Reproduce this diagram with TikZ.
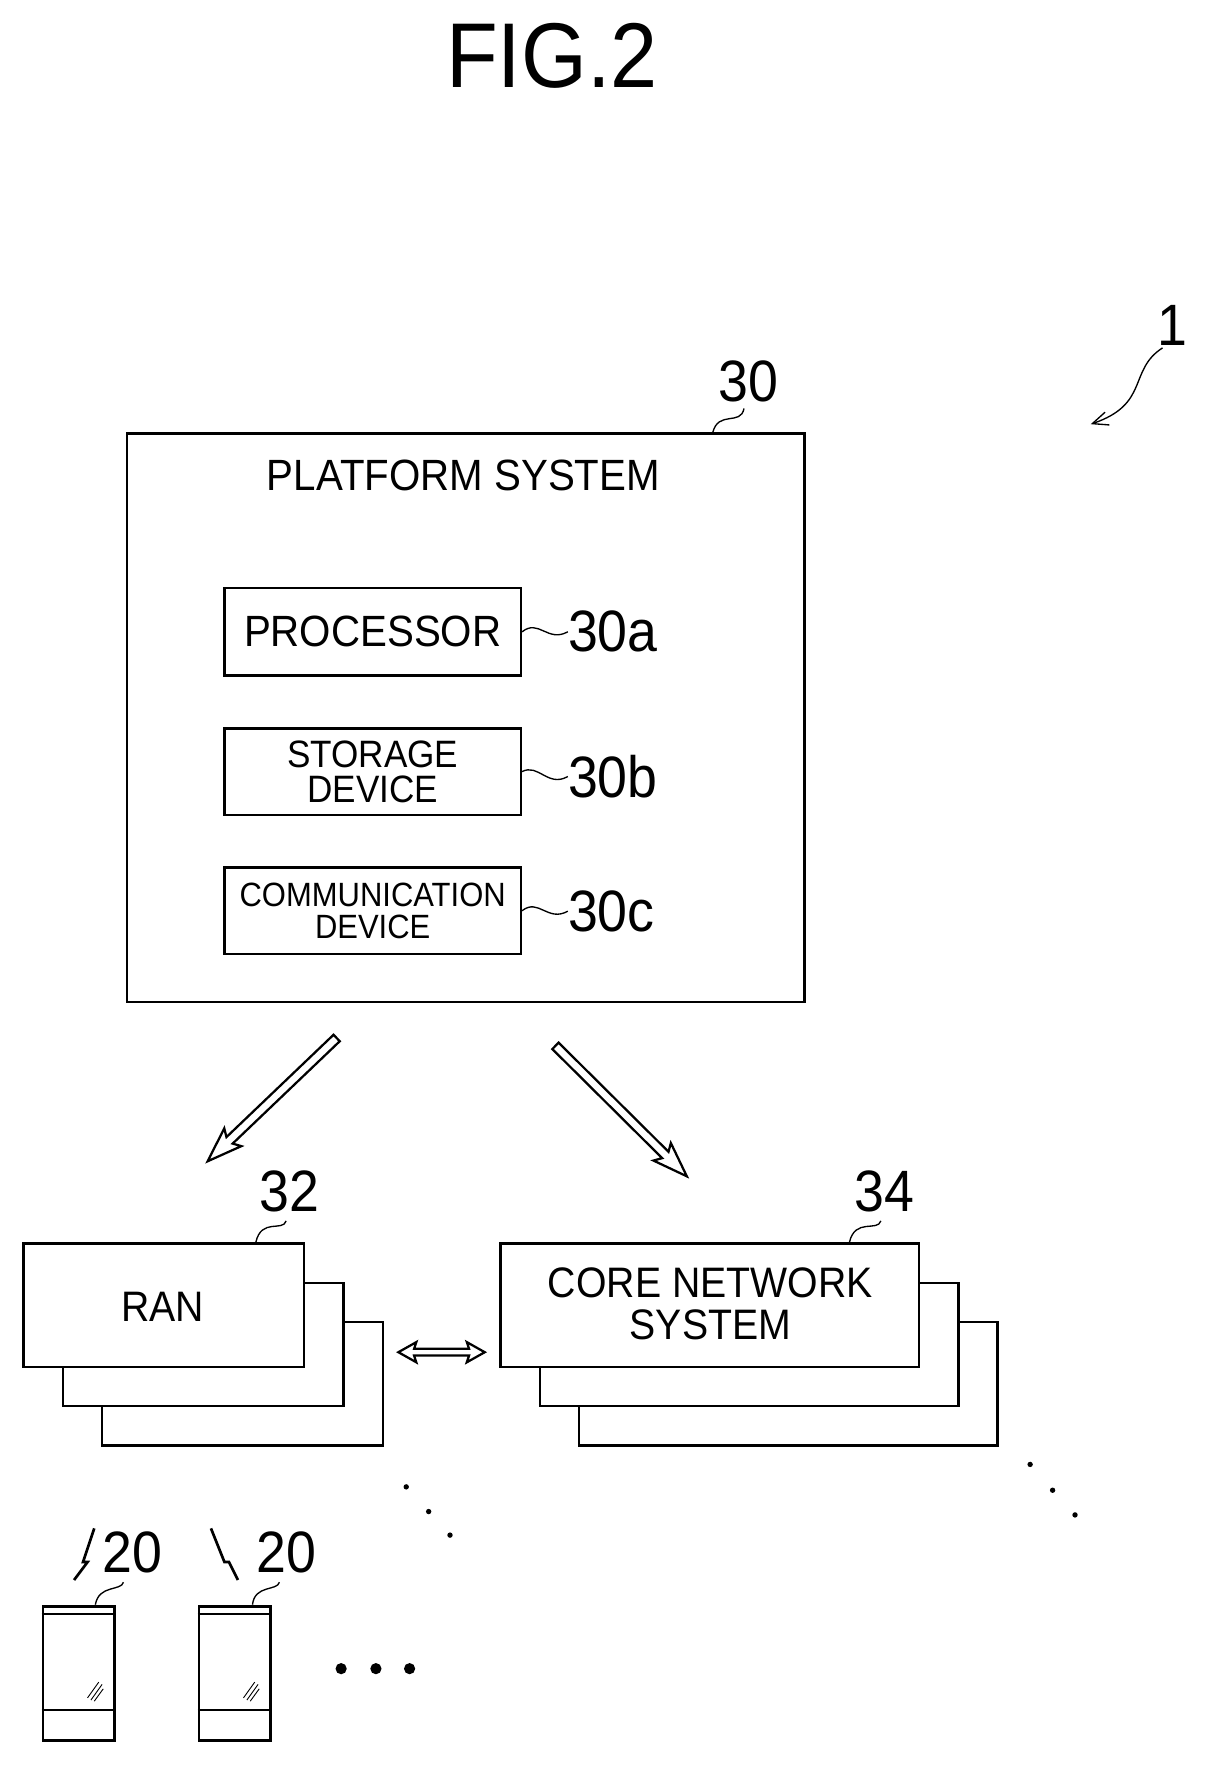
\documentclass[tikz,border=0pt]{standalone}
\usetikzlibrary{arrows.meta}
\usepackage{fontspec}
\setmainfont[FakeStretch=0.92]{Liberation Sans}
\begin{document}
\begin{tikzpicture}[x=1pt,y=-1pt,
  box/.style={draw,line width=2.2pt,fill=white},
  lead/.style={line width=1.2pt},
  num/.style={font=\fontsize{52}{52}\selectfont,inner sep=0},
  hol/.style={draw,line width=2pt,fill=white,line join=miter}]
\useasboundingbox (0,0) rectangle (1080,1580);
\node[font=\fontsize{82}{82}\selectfont] (title) at (492,50) {FIG.2};
% label 1
\node[num] (n1) at (1045,290) {1};
\coordinate (n1a) at (1036,310);
\coordinate (n1b) at (972,378);
\draw[lead,-{Straight Barb[length=14pt,width=12pt]}] (n1a) .. controls (1005,330) and (1025,360) .. (n1b);
% platform
\node[box,minimum width=604,minimum height=507,anchor=north west] (P) at (112,385) {};
\node[font=\fontsize{39}{39}\selectfont] (pt) at (413,424) {PLATFORM SYSTEM};
\node[num] (n30) at (667,340) {30};
\coordinate (c30) at (635,386);
\draw[lead] (c30) .. controls (640,365) and (660,380) .. (663,364);
\node[box,minimum width=264,minimum height=78,anchor=north west,font=\fontsize{39}{39}\selectfont,inner sep=0] (a) at (199,523) {PROCESSOR};
\node[box,minimum width=264,minimum height=77,anchor=north west,font=\fontsize{34}{31}\selectfont,inner sep=0,align=center] (b) at (199,648) {STORAGE\\DEVICE};
\node[box,minimum width=264,minimum height=77,anchor=north west,font=\fontsize{30}{29}\selectfont,inner sep=0,align=center] (c) at (199,772) {COMMUNICATION\\DEVICE};
\foreach \s/\y in {a/563,b/692,c/812}{
  \node[num,anchor=west] (l\s) at (506,\y) {30\s};
  \draw[lead] (\s.east) .. controls (480,\y-12) and (488,\y+10) .. (l\s.west);
}
% hollow arrows
\begin{scope}[shift={(300,925)},rotate=223.7]
\path[hol] (0,4)--(132,4)--(128,11)--(159,0)--(128,-11)--(132,-4)--(0,-4)--cycle;
\end{scope}
\begin{scope}[shift={(495,932)},rotate=-44.8]
\path[hol] (0,4)--(138,4)--(134,11)--(165,0)--(134,-11)--(138,-4)--(0,-4)--cycle;
\end{scope}
% RAN stack
\node[box,minimum width=250,minimum height=110,anchor=north west] (r3) at (90,1177) {};
\node[box,minimum width=250,minimum height=110,anchor=north west] (r2) at (55,1142) {};
\node[box,minimum width=250,minimum height=110,anchor=north west] (r1) at (20,1107) {};
\node[font=\fontsize{38}{38}\selectfont] (rt) at (145,1165) {RAN};
\node[num] (n32) at (258,1062) {32};
\coordinate (c32) at (228,1107);
\draw[lead] (c32) .. controls (233,1085) and (252,1098) .. (255,1088);
% Core stack
\node[box,minimum width=373,minimum height=110,anchor=north west] (k3) at (515,1177) {};
\node[box,minimum width=373,minimum height=110,anchor=north west] (k2) at (480,1142) {};
\node[box,minimum width=373,minimum height=110,anchor=north west] (k1) at (445,1107) {};
\node[font=\fontsize{38}{38}\selectfont,align=center] (kt) at (633,1162) {CORE NETWORK\\SYSTEM};
\node[num] (n34) at (788,1062) {34};
\coordinate (c34) at (757,1107);
\draw[lead] (c34) .. controls (762,1085) and (782,1098) .. (785,1088);
% double arrow
\begin{scope}[shift={(355,1205)}]
\path[hol] (0,0)--(16,-9)--(14,-3)--(63,-3)--(61,-9)--(77,0)--(61,9)--(63,3)--(14,3)--(16,9)--cycle;
\end{scope}
% dots
\foreach \x/\y in {362/1325,382/1347,401/1368,918/1305,938/1328,958/1350}
  \fill (\x,\y) circle (2.4);
\foreach \x in {304,335,365} \fill (\x,1487) circle (5);
% phones
\foreach \px/\nm in {37/ph1,176/ph2}{
  \node[draw,line width=2.6pt,minimum width=64,minimum height=120,anchor=north west,inner sep=0] (\nm) at (\px,1430) {};
  \draw[line width=1.8pt] (\px,1438) -- (\px+64,1438);
  \draw[line width=1.8pt] (\px,1524) -- (\px+64,1524);
  \draw[line width=0.8pt] (\px+41,1513)--(\px+51,1499) (\px+44,1515)--(\px+54,1501) (\px+47,1516)--(\px+55,1505);
}
\node[num] (n20a) at (118,1383) {20};
\node[num] (n20b) at (255,1383) {20};
\coordinate (q1) at (85,1430);
\coordinate (q2) at (225,1430);
\draw[lead] (q1) .. controls (88,1412) and (108,1418) .. (110,1410);
\draw[lead] (q2) .. controls (227,1412) and (247,1418) .. (249,1410);
% lightning
\draw[line width=2.4pt] (84,1362) -- (74,1392) -- (78,1392) -- (66,1408);
\draw[line width=2.4pt] (188,1362) -- (200,1392) -- (204,1392) -- (212,1408);
\end{tikzpicture}
\end{document}
